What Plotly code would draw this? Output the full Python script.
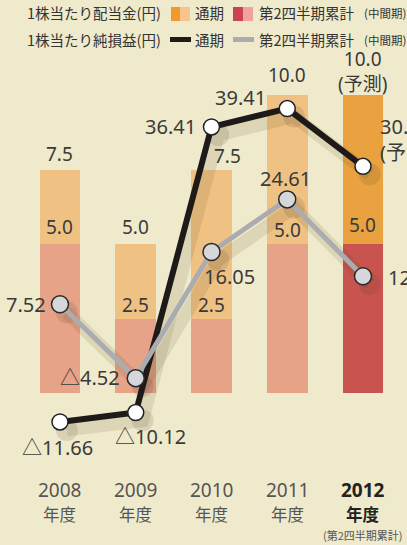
import plotly.graph_objects as go

# ---------------- data ----------------
years = ["2008", "2009", "2010", "2011", "2012"]
year_suffix = "年度"
div_full = [7.5, 5.0, 7.5, 10.0, 10.0]      # 1株当たり配当金 通期
div_half = [5.0, 2.5, 2.5, 5.0, 5.0]        # 第2四半期累計
eps_full = [-11.66, -10.12, 36.41, 39.41, 30.0]   # 1株当たり純損益 通期
eps_half = [7.52, -4.52, 16.05, 24.61, 12.09]     # 第2四半期累計
div_full_text = ["7.5", "5.0", "7.5", "10.0", "10.0<br>(予測)"]
div_half_text = ["5.0", "2.5", "2.5", "5.0", "5.0"]
eps_full_text = ["△11.66", "△10.12", "36.41", "39.41", "30.0<br>(予測)"]
eps_half_text = ["7.52", "△4.52", "16.05", "24.61", "12.09"]

# ---------------- style ----------------
W, H = 407, 545
BG = "#EFEACB"
TXT = "#3a3a3a"
FONT = "Noto Sans, Noto Sans CJK JP, sans-serif"
CJK = "Noto Sans CJK JP, sans-serif"

xs = list(range(len(years)))
full_colors = ["#EFC283"] * 4 + ["#E9A23F"]
half_colors = ["#E7A387"] * 4 + ["#C9544F"]

def px(x):
    return x / W

def py(y):
    return 1 - y / H

fig = go.Figure()

# bars (overlay: full-year behind, half-year in front)
fig.add_trace(go.Bar(x=xs, y=div_full, width=0.54, marker=dict(color=full_colors, line=dict(width=0)),
                     yaxis="y", hoverinfo="skip"))
fig.add_trace(go.Bar(x=xs, y=div_half, width=0.54, marker=dict(color=half_colors, line=dict(width=0)),
                     yaxis="y", hoverinfo="skip"))

# soft shadows of lines
for vals in (eps_full, eps_half):
    fig.add_trace(go.Scatter(x=[x + 0.09 for x in xs], y=[v - 1.3 for v in vals], yaxis="y2",
                             mode="lines+markers",
                             line=dict(color="rgba(70,55,30,0.11)", width=13),
                             marker=dict(size=22, color="rgba(70,55,30,0.13)"),
                             hoverinfo="skip"))

# lines
fig.add_trace(go.Scatter(x=xs, y=eps_full, yaxis="y2", mode="lines+markers",
                         line=dict(color="#1d1a19", width=6),
                         marker=dict(size=16, color="white", line=dict(color="#222", width=1.5)),
                         hoverinfo="skip"))
fig.add_trace(go.Scatter(x=xs, y=eps_half, yaxis="y2", mode="lines+markers",
                         line=dict(color="#ABACB0", width=5),
                         marker=dict(size=17, color="#D6D7DA", line=dict(color="#2a2a2a", width=1.5)),
                         hoverinfo="skip"))

ann = []

# bar value labels: (xshift, yshift)
full_off = [(0, 16), (0, 17), (16, 14), (0, 20), (0, 24)]
half_off = [(0, 17), (0, 14), (0, 14), (0, 14), (0, 19)]
for i in xs:
    ann.append(dict(x=i, y=div_full[i], xref="x", yref="y", text=div_full_text[i],
                    showarrow=False, xshift=full_off[i][0], yshift=full_off[i][1],
                    font=dict(family=FONT, size=19, color=TXT), xanchor="center", yanchor="middle"))
    ann.append(dict(x=i, y=div_half[i], xref="x", yref="y", text=div_half_text[i],
                    showarrow=False, xshift=half_off[i][0], yshift=half_off[i][1],
                    font=dict(family=FONT, size=19, color=TXT), xanchor="center", yanchor="middle"))

# line labels: (xanchor, xshift, yshift)
ef_off = [("center", -2, -26), ("center", 15, -24), ("right", -13, 0), ("right", -19, 11), ("left", 15, 27)]
eh_off = [("right", -12, 0), ("right", -14, 1), ("center", 18, -25), ("center", -2, 21), ("left", 23, -1)]
for i in xs:
    a, dx, dy = ef_off[i]
    ann.append(dict(x=i, y=eps_full[i], xref="x", yref="y2", text=eps_full_text[i],
                    showarrow=False, xshift=dx, yshift=dy, xanchor=a, yanchor="middle", align="left",
                    font=dict(family=FONT, size=20, color=TXT)))
    a, dx, dy = eh_off[i]
    ann.append(dict(x=i, y=eps_half[i], xref="x", yref="y2", text=eps_half_text[i],
                    showarrow=False, xshift=dx, yshift=dy, xanchor=a, yanchor="middle",
                    font=dict(family=FONT, size=20, color=TXT)))

# category labels
for i, yr in enumerate(years):
    bold = i == len(years) - 1
    t1 = f"<b>{yr}</b>" if bold else yr
    t2 = f"<b>{year_suffix}</b>" if bold else year_suffix
    ann.append(dict(x=i, y=py(490), xref="x", yref="paper", text=t1, showarrow=False,
                    font=dict(family=FONT, size=19, color="#222" if bold else "#555"), yanchor="middle"))
    ann.append(dict(x=i, y=py(514), xref="x", yref="paper", text=t2, showarrow=False,
                    font=dict(family=CJK, size=16.5, color="#222" if bold else "#555"), yanchor="middle"))
ann.append(dict(x=len(years) - 1, y=py(535), xref="x", yref="paper", text="(第2四半期累計)",
                showarrow=False, font=dict(family=CJK, size=11, color="#555"), yanchor="middle"))

# legend texts
leg = [
    ("1株当たり配当金(円)", 25, 12, 14.5),
    ("通期", 193, 12, 14.5),
    ("第2四半期累計", 257, 12, 14.5),
    ("1株当たり純損益(円)", 25, 39, 14.5),
    ("通期", 193, 39, 14.5),
    ("第2四半期累計", 257, 39, 14.5),
]
for t, x0, y0, s in leg:
    ann.append(dict(x=px(x0), y=py(y0), xref="paper", yref="paper", text=t, showarrow=False,
                    xanchor="left", yanchor="middle", font=dict(family=CJK, size=s, color="#333")))
for y0 in (12, 39):
    ann.append(dict(x=px(362), y=py(y0 + 1), xref="paper", yref="paper", text="(中間期)", showarrow=False,
                    xanchor="left", yanchor="middle", font=dict(family=CJK, size=11.5, color="#333")))

shapes = [
    dict(type="rect", xref="paper", yref="paper", x0=px(171), x1=px(180), y0=py(21), y1=py(7),
         fillcolor="#F0992E", line=dict(width=0)),
    dict(type="rect", xref="paper", yref="paper", x0=px(180), x1=px(190), y0=py(21), y1=py(7),
         fillcolor="#F7C48E", line=dict(width=0)),
    dict(type="rect", xref="paper", yref="paper", x0=px(233), x1=px(243), y0=py(21), y1=py(7),
         fillcolor="#CC4350", line=dict(width=0)),
    dict(type="rect", xref="paper", yref="paper", x0=px(243), x1=px(253), y0=py(21), y1=py(7),
         fillcolor="#F1A19E", line=dict(width=0)),
    dict(type="line", xref="paper", yref="paper", x0=px(170), x1=px(191), y0=py(39.5), y1=py(39.5),
         line=dict(color="#1d1a19", width=5)),
    dict(type="line", xref="paper", yref="paper", x0=px(233), x1=px(254), y0=py(39.5), y1=py(39.5),
         line=dict(color="#ABACB0", width=5)),
]

fig.update_layout(
    width=W, height=H,
    margin=dict(l=0, r=0, t=0, b=0),
    paper_bgcolor=BG, plot_bgcolor=BG,
    barmode="overlay", bargap=0,
    showlegend=False,
    xaxis=dict(range=[-0.792, 4.581], visible=False, fixedrange=True),
    yaxis=dict(range=[-5.10, 13.19], visible=False, fixedrange=True),
    yaxis2=dict(range=[-31.71, 57.10], overlaying="y", visible=False, fixedrange=True),
    annotations=ann,
    shapes=shapes,
)

fig.write_html("out.html", config={"displayModeBar": False})
